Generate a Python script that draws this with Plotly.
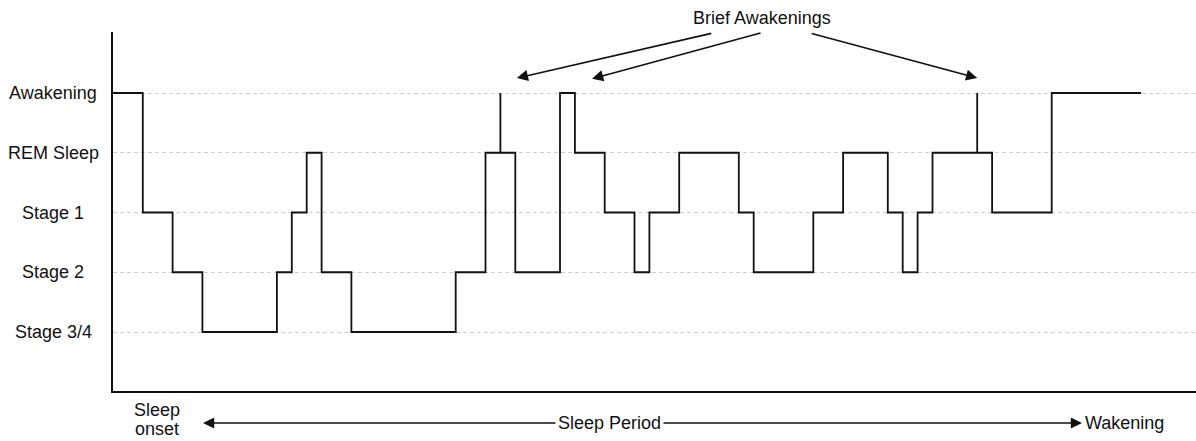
import plotly.graph_objects as go

# ---- data ----
stage_names = ["Stage 3/4", "Stage 2", "Stage 1", "REM Sleep", "Awakening"]
stage_levels = [1, 2, 3, 4, 5]

# step start times (arbitrary time units) and stage level entered at each time
times = [0, 2, 4, 6, 11, 12, 13, 14, 16, 23, 25, 26, 26, 27, 30, 31, 33, 35, 36,
         38, 42, 43, 47, 49, 52, 53, 54, 55, 58, 58, 59, 63, 69]
stages = [5, 3, 2, 1, 2, 3, 4, 2, 1, 2, 4, 5, 4, 2, 5, 4, 3, 2, 3,
          4, 3, 2, 3, 4, 3, 2, 3, 4, 5, 4, 3, 5, 5]

# brief awakening arrow targets (time, level)
brief_x = [27.1, 32.15, 58.0]
brief_y = [5.25, 5.24, 5.25]

FONT = "Liberation Sans, Arial, Helvetica, sans-serif"
TXT = "#111"
W, H = 1196, 441
L, R, T, B = 113, 0, 32, 50
PW, PH = W - L - R, H - T - B

def px_x(px):
    return (px - L) / PW

def px_y(py):
    return (H - B - py) / PH

fig = go.Figure()
fig.add_trace(go.Scatter(
    x=times, y=stages, mode="lines", line=dict(shape="hv", color="#111", width=1.8),
    hoverinfo="skip", showlegend=False,
))

ann = []
# stage labels
for name, lv in zip(stage_names, stage_levels):
    ann.append(dict(text=name, xref="paper", yref="y", x=px_x(53), y=lv,
                    xanchor="center", yanchor="middle", showarrow=False,
                    font=dict(size=18, color=TXT, family=FONT)))

# Brief Awakenings title and arrows
ann.append(dict(text="Brief Awakenings", xref="paper", yref="paper",
                x=px_x(762), y=px_y(18), xanchor="center", yanchor="middle",
                showarrow=False, font=dict(size=18, color=TXT, family=FONT)))
tails = [(713, 33), (762, 33), (810, 33)]
heads_px = [(517, 78), (592, 79), (977, 78)]
for bx, by, (tx, ty), (hx, hy) in zip(brief_x, brief_y, tails, heads_px):
    ann.append(dict(text="", x=bx, y=by, xref="x", yref="y",
                    ax=tx - hx, ay=ty - hy, showarrow=True,
                    arrowhead=2, arrowsize=1.4, arrowwidth=1.6, arrowcolor="#111",
                    standoff=0, startstandoff=0))

# bottom annotations
ARW_Y = 423
ann.append(dict(text="Sleep", xref="paper", yref="paper", x=px_x(157), y=px_y(410),
                xanchor="center", yanchor="middle", showarrow=False,
                font=dict(size=18, color=TXT, family=FONT)))
ann.append(dict(text="onset", xref="paper", yref="paper", x=px_x(157), y=px_y(429),
                xanchor="center", yanchor="middle", showarrow=False, borderpad=0,
                font=dict(size=18, color=TXT, family=FONT)))
ann.append(dict(text="Sleep Period", xref="paper", yref="paper", x=px_x(609.5), y=px_y(ARW_Y),
                xanchor="center", yanchor="middle", showarrow=False,
                font=dict(size=18, color=TXT, family=FONT)))
ann.append(dict(text="Wakening", xref="paper", yref="paper", x=px_x(1083), y=px_y(ARW_Y),
                xanchor="left", yanchor="middle", showarrow=False,
                font=dict(size=18, color=TXT, family=FONT)))
ann.append(dict(text="", xref="paper", yref="paper", x=px_x(203), y=px_y(ARW_Y),
                ax=557 - 203, ay=0, showarrow=True, arrowhead=2, arrowsize=1.4,
                arrowwidth=1.6, arrowcolor="#111", standoff=0))
ann.append(dict(text="", xref="paper", yref="paper", x=px_x(1082), y=px_y(ARW_Y),
                ax=662 - 1082, ay=0, showarrow=True, arrowhead=2, arrowsize=1.4,
                arrowwidth=1.6, arrowcolor="#111", standoff=0))

fig.update_layout(
    width=W, height=H, margin=dict(l=L, r=R, t=T, b=B),
    paper_bgcolor="white", plot_bgcolor="white",
    annotations=ann, showlegend=False,
    xaxis=dict(range=[0, PW / 14.9], showgrid=False, zeroline=False,
               showticklabels=False, ticks="", showline=True, linecolor="#111",
               linewidth=1.8, fixedrange=True),
    yaxis=dict(range=[1 - 59 / 59.75, 5 + 61 / 59.75], tickvals=stage_levels,
               showticklabels=False, ticks="", showgrid=True, gridcolor="#cfcfcf",
               gridwidth=1, griddash="4px,3px", zeroline=False, showline=True,
               linecolor="#111", linewidth=1.8, fixedrange=True),
)

fig.write_html("out.html", config={"displayModeBar": False},
               post_script="document.body.style.margin='0';document.body.style.overflow='hidden';")
